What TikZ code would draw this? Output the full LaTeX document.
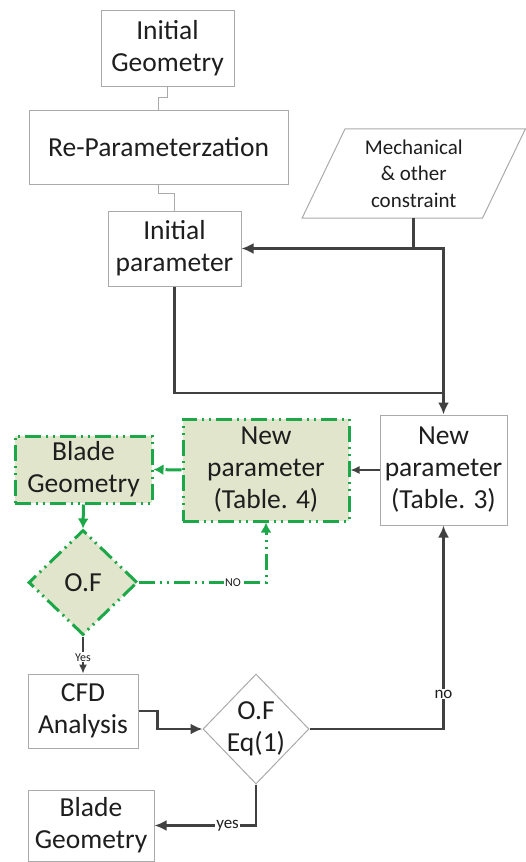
\documentclass[tikz,border=0pt]{standalone}
\usepackage{fontspec}
\setmainfont{Carlito}
\usetikzlibrary{positioning}
\usetikzlibrary{calc}
\usetikzlibrary{arrows.meta,shapes.geometric}

\definecolor{txtgray}{RGB}{30,30,30}
\definecolor{boxgray}{RGB}{170,170,170}
\definecolor{linegray}{RGB}{65,65,65}
\definecolor{optgreen}{RGB}{28,168,72}
\definecolor{optfill}{RGB}{224,229,203}

\tikzset{
  box/.style={draw=boxgray, line width=1pt, fill=white, text=txtgray, align=center,
    inner sep=0pt, font=\fontsize{27.5}{32}\selectfont},
  gbox/.style={box, draw=optgreen, fill=optfill, line width=3pt,
    dash pattern=on 16pt off 5pt on 2pt off 5pt on 2pt off 5pt},
  decide/.style={box, shape=diamond, inner sep=-3pt},
  flow/.style={draw=linegray, line width=2.7pt, -{Latex[length=12pt,width=11pt]}},
  thinflow/.style={draw=linegray, line width=1.5pt, -{Latex[length=9pt,width=8pt]}},
  gflow/.style={draw=optgreen, line width=3pt, -{Latex[length=10pt,width=11pt]},
    dash pattern=on 16pt off 5pt on 2pt off 5pt on 2pt off 5pt},
  link/.style={draw=boxgray, line width=1pt},
  lbl/.style={fill=white, text=txtgray, inner sep=1pt}
}

\begin{document}
\begin{tikzpicture}[x=1pt,y=-1pt]
\useasboundingbox (0,0) rectangle (526,862);

% set-up chain
\node[box, minimum width=133, minimum height=76](initG) at (167.5,48){Initial\\Geometry};
\node[box, minimum width=259, minimum height=74](reP) at (158.5,147){Re-Parameterzation};
\node[box, minimum width=133, minimum height=75](initP) at (174.5,248.5){Initial\\parameter};

% constraint input
\node[minimum width=180, minimum height=89, inner sep=0pt, align=center, text=txtgray,
  font=\fontsize{21}{26.5}\selectfont](cons) at (413.75,173.5){Mechanical\\\& other\\constraint};
\draw[boxgray, line width=1pt]
  ($(cons.south west)+(-21.5,0)$) -- ($(cons.north west)+(21.5,0)$)
  -- ($(cons.north east)+(21.5,0)$) -- ($(cons.south east)+(-21.5,0)$) -- cycle;

% parameter update boxes
\node[box, minimum width=127, minimum height=110](newPT3) at (443.5,470){New\\parameter\\(Table. 3)};
\node[gbox, minimum width=166, minimum height=102](newPT4) at (266,470){New\\parameter\\(Table. 4)};
\node[gbox, minimum width=137, minimum height=67](bladeG) at (83.5,469.5){Blade\\Geometry};
\node[gbox, shape=diamond, minimum width=109, minimum height=105](ofG) at (83,582.5){O.F};

% evaluation
\node[box, minimum width=110, minimum height=74](cfd) at (83,711){CFD\\Analysis};
\node[decide, minimum width=106, minimum height=110](ofEq) at (256,729){O.F\\Eq(1)};
\node[box, minimum width=126, minimum height=71](bladeOut) at (91,825.5){Blade\\Geometry};

\coordinate(merge) at (443.5,393);

\draw[link] (initG.south) -- ++(0,11) -| (reP.north);
\draw[link] (reP.south) -- ++(0,9) -| (initP.north);

\draw[flow] (cons.south) |- (initP.east);
\draw[flow, -] (initP.south) |- (merge);
\draw[flow] (cons.south |- initP.east) -| (newPT3.north);

\draw[thinflow] (newPT3.west) -- (newPT4.east);
\draw[gflow] (newPT4.west) -- (bladeG.east);
\draw[gflow] (bladeG.south) -- (ofG.north);
\draw[gflow] (ofG.east) -| node[pos=0.37, lbl, font=\fontsize{12}{14}\selectfont]{NO} (newPT4.south);

\draw[thinflow] (ofG.south) -- node[pos=0.56, lbl, font=\fontsize{12}{14}\selectfont]{Yes} (cfd.north);
\draw[flow] (cfd.east) -- ++(19,0) |- (ofEq.west);
\draw[flow] (ofEq.east) -| node[pos=0.586, lbl, font=\fontsize{17}{20}\selectfont]{no} (newPT3.south);
\draw[flow] (ofEq.south) |- node[pos=0.64, lbl, font=\fontsize{17}{20}\selectfont]{yes} (bladeOut.east);
\end{tikzpicture}
\end{document}
